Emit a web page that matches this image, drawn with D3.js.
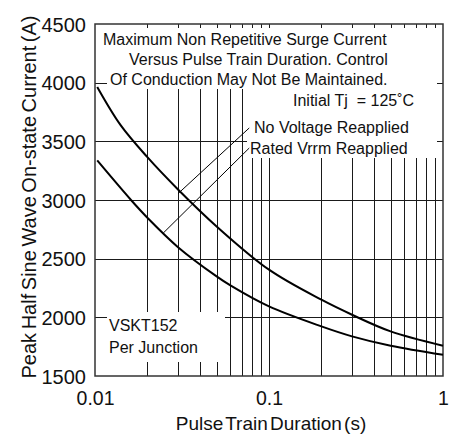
<!DOCTYPE html>
<html><head><meta charset="utf-8">
<script src="https://cdn.jsdelivr.net/npm/d3@7"></script>
<style>
html,body{margin:0;padding:0;background:#fff;}
svg{display:block;font-family:"Liberation Sans",Arial,Helvetica,sans-serif;}
</style></head>
<body><svg id="chart" width="461" height="434"></svg>
<script>
// ---- data ----
const xTickValues = [0.01, 0.1, 1];
const xTickLabels = ["0.01", "0.1", "1"];
const yTickValues = [1500, 2000, 2500, 3000, 3500, 4000, 4500];
const yTickLabels = ["1500", "2000", "2500", "3000", "3500", "4000", "4500"];
const seriesNames = ["No Voltage Reapplied", "Rated Vrrm Reapplied"];
const noVoltT = [0.0103, 0.014, 0.02, 0.03, 0.05, 0.1, 0.2, 0.3, 0.5, 1];
const noVoltI = [3963, 3640, 3365, 3090, 2775, 2406, 2150, 2022, 1880, 1758];
const ratedT = [0.0103, 0.0161, 0.02, 0.03, 0.05, 0.06, 0.1, 0.2, 0.3, 0.5, 1];
const ratedI = [3337, 3000, 2849, 2598, 2349, 2272, 2093, 1923, 1838, 1758, 1681];
// leader lines: [t, I] from label to curve
const leader1 = [[0.077, 3614], [0.03, 3054]];
const leader2 = [[0.077, 3443], [0.0247, 2719]];

// ---- layout ----
const L = 95, T = 24, W = 348, H = 352;
const svg = d3.select("#chart");
const x = d3.scaleLog().domain([0.01, 1]).range([L, L + W]);
const y = d3.scaleLinear().domain([1500, 4500]).range([T + H, T]);

const grid = svg.append("g");
const minors = [];
[0.01, 0.1].forEach(d => { for (let k = 2; k <= 9; k++) minors.push(d * k); });
const vgrid = minors.concat([0.1]);
grid.selectAll("line.v").data(vgrid).join("line")
  .attr("x1", d => Math.round(x(d)) + 0.5).attr("x2", d => Math.round(x(d)) + 0.5)
  .attr("y1", T).attr("y2", T + H)
  .attr("stroke", "#1a1a1a").attr("stroke-width", 1);
const hgrid = [2000, 2500, 3000, 3500, 4000];
grid.selectAll("line.h").data(hgrid).join("line")
  .attr("x1", L).attr("x2", L + W)
  .attr("y1", d => Math.round(y(d)) + 0.5).attr("y2", d => Math.round(y(d)) + 0.5)
  .attr("stroke", "#1a1a1a").attr("stroke-width", 1);

// white text boxes
const boxes = [
  [L, T, W, 65],
  [247, 89, L + W - 247, 69],
  [L, 312, 130, 50]
];
svg.append("g").selectAll("rect").data(boxes).join("rect")
  .attr("x", d => d[0]).attr("y", d => d[1]).attr("width", d => d[2]).attr("height", d => d[3])
  .attr("fill", "#fff");

// stubs / ticks over the boxes
const stubs = svg.append("g").attr("stroke", "#1a1a1a").attr("stroke-width", 1);
stubs.selectAll("line.t").data(vgrid).join("line")
  .attr("x1", d => Math.round(x(d)) + 0.5).attr("x2", d => Math.round(x(d)) + 0.5)
  .attr("y1", T).attr("y2", T + 4);
stubs.selectAll("line.l").data([4000, 2000]).join("line")
  .attr("x1", L).attr("x2", L + 12)
  .attr("y1", d => Math.round(y(d)) + 0.5).attr("y2", d => Math.round(y(d)) + 0.5);
stubs.selectAll("line.r").data([4000, 3500]).join("line")
  .attr("x1", L + W - 6).attr("x2", L + W)
  .attr("y1", d => Math.round(y(d)) + 0.5).attr("y2", d => Math.round(y(d)) + 0.5);

// border
svg.append("rect").attr("x", L).attr("y", T).attr("width", W).attr("height", H)
  .attr("fill", "none").attr("stroke", "#333").attr("stroke-width", 1.5);

// curves
const line = d3.line().x(d => x(d[0])).y(d => y(d[1])).curve(d3.curveCatmullRom.alpha(0.5));
const series = [d3.zip(noVoltT, noVoltI), d3.zip(ratedT, ratedI)];
svg.append("g").selectAll("path").data(series).join("path")
  .attr("d", line).attr("fill", "none").attr("stroke", "#000").attr("stroke-width", 2);

// leader lines
const lline = d3.line().x(d => x(d[0])).y(d => y(d[1]));
svg.append("g").selectAll("path").data([leader1, leader2]).join("path")
  .attr("d", lline).attr("fill", "none").attr("stroke", "#000").attr("stroke-width", 1);

// axes labels
const xa = d3.axisBottom(x).tickValues(xTickValues).tickFormat((d, i) => xTickLabels[i]).tickSize(0).tickPadding(0);
const gx = svg.append("g").attr("transform", `translate(0,${T + H})`).call(xa);
gx.select(".domain").remove();
gx.selectAll("text").attr("font-size", 19.5).attr("fill", "#111").attr("dy", null).attr("y", 29)
  .attr("font-family", "Liberation Sans, Arial, sans-serif");

const ya = d3.axisLeft(y).tickValues(yTickValues).tickFormat((d, i) => yTickLabels[i]).tickSize(0).tickPadding(0);
const gy = svg.append("g").attr("transform", `translate(${L},0)`).call(ya);
gy.select(".domain").remove();
gy.selectAll("text").attr("font-size", 20).attr("fill", "#111").attr("x", -9).attr("dy", "0.36em")
  .attr("font-family", "Liberation Sans, Arial, sans-serif");

svg.append("text").attr("x", 271).attr("y", 430).attr("text-anchor", "middle")
  .attr("font-size", 19).attr("word-spacing", -3).attr("fill", "#111")
  .text("Pulse Train Duration (s)");
svg.append("text").attr("transform", "translate(36,197) rotate(-90)").attr("text-anchor", "middle")
  .attr("font-size", 20).attr("word-spacing", -2).attr("fill", "#111")
  .text("Peak Half Sine Wave On-state Current (A)");

// annotations
const notes = [
  ["Maximum Non Repetitive Surge Current", 103, 45],
  ["Versus Pulse Train Duration. Control", 129, 65],
  ["Of Conduction May Not Be Maintained.", 110, 85],
  ["Initial Tj  = 125˚C", 293, 106],
  [seriesNames[0], 254, 133],
  [seriesNames[1], 250, 154],
  ["VSKT152", 109, 331],
  ["Per Junction", 109, 353]
];
svg.append("g").selectAll("text").data(notes).join("text")
  .attr("x", d => d[1]).attr("y", d => d[2]).attr("font-size", 16).attr("fill", "#111")
  .style("white-space", "pre").attr("xml:space", "preserve")
  .text(d => d[0]);
</script></body></html>
